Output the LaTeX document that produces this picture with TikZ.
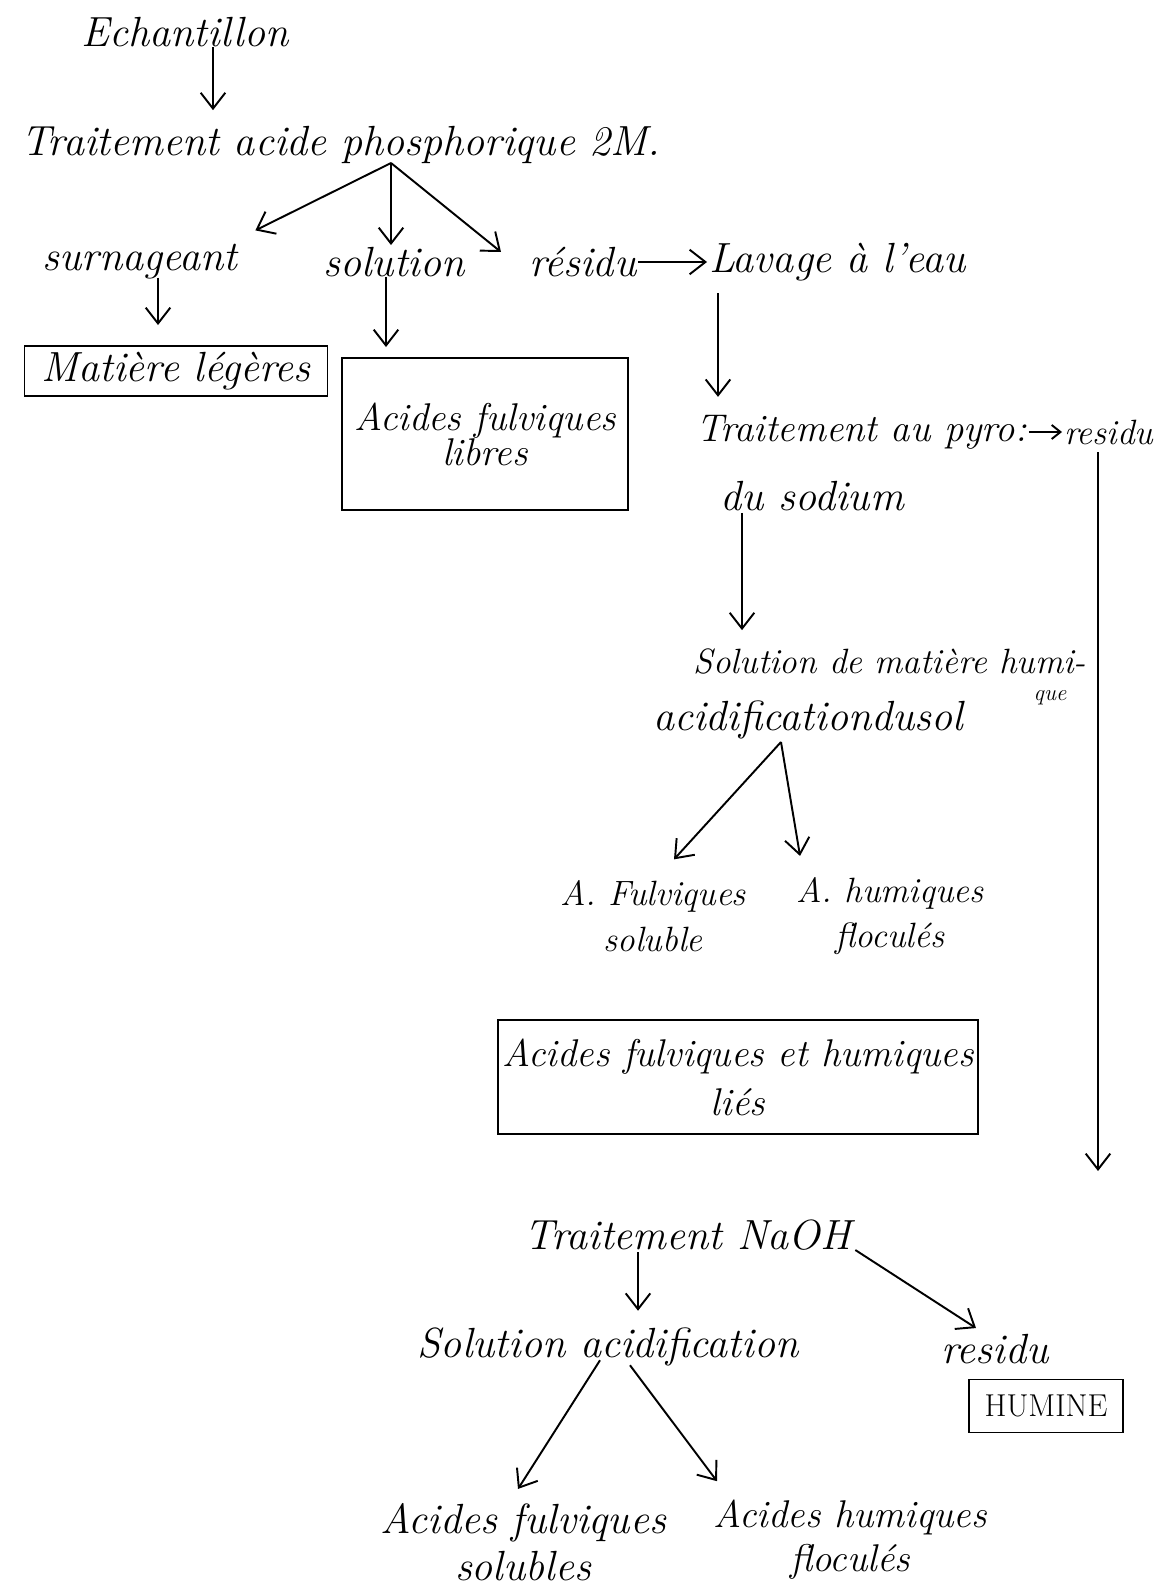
\documentclass[tikz,border=0pt]{standalone}
\usepackage{fontspec}
\usetikzlibrary{arrows.meta,calc,positioning}

\newcommand\hand{\fontsize{24}{30}\selectfont\itshape}
\newcommand\handmid{\fontsize{22}{28}\selectfont\itshape}
\newcommand\handsmall{\fontsize{20}{26}\selectfont\itshape}

\begin{document}
\begin{tikzpicture}[
  x=0.02cm,
  y=-0.02cm,
  >={Straight Barb[length=9pt,width=14pt]},
  lbl/.style={font=\hand, inner sep=1pt, align=center},
  box/.style={draw, line width=1.1pt, font=\hand, align=center, inner sep=2pt},
  link/.style={->, line width=1.1pt}
]
  \useasboundingbox (0,0) rectangle (1160,1594);

  % partie haute
  \node[lbl] (ech) at (185,32) {Echantillon};
  \node[lbl] (phos) at (341,145) {Traitement acide phosphorique 2M.};
  \node[lbl] (surn) at (140,262) {surnageant};
  \node[lbl] (sol) at (394,262) {solution};
  \node[lbl, anchor=west] (res1) at (527,262) {résidu};
  \node[lbl, anchor=west] (lav) at (707,262) {Lavage à l'eau};

  \node[box, minimum width=6.06cm, minimum height=1.0cm] (matl) at (176,371) {Matière légères};
  \node[box, font=\handmid, minimum width=5.72cm, minimum height=3.04cm] (afl) at (485,434) {Acides fulviques\\[-8pt]libres};

  \coordinate (fk1) at (391,163);
  \draw[link] ($(ech.south)+(28,-2)$) -- ($(phos.north)+(-128,-14)$);
  \draw[link] (fk1) -- ($(surn.north east)+(16,-12)$);
  \draw[link] (fk1) -- (fk1 |- sol.north);
  \draw[link] (fk1) -- ($(res1.west)+(-26,-10)$);
  \draw[link] (res1.east) -- (lav.west);
  \draw[link] ($(surn.south)+(18,-4)$) -- ($(matl.north)+(-18,-20)$);
  \draw[link] ($(sol.south)+(-8,-2)$) -- ($(afl.north)+(-99,-10)$);

  % pyrophosphate
  \node[lbl, font=\handmid, anchor=west] (pyro) at (694,432) {Traitement au pyro:};
  \node[lbl, font=\handsmall, anchor=west] (res2) at (1062,432) {residu};
  \node[lbl] (sod) at (812,496) {du sodium};
  \node[lbl, font=\handsmall] (smh) at (890,661) {Solution de matière humi-};
  \node[lbl, font=\fontsize{13}{15}\selectfont\itshape] (que) at (1050,698) {que};
  \node[lbl] (acid) at (808,720) {acidificationdusol};
  \node[lbl, font=\handsmall] (afs) at (653,916) {A. Fulviques\\soluble};
  \node[lbl, font=\handsmall] (ahf) at (890,916) {A. humiques\\floculés};
  \node[box, font=\handmid, minimum width=9.6cm, minimum height=2.28cm] (lies) at (738,1077) {Acides fulviques et humiques\\liés};

  \coordinate (fk2) at (781,742);
  \coordinate (endres) at (1098,1171);
  \draw[link] ($(lav.south west)+(11,10)$) -- ($(pyro.north west)+(24,-16)$);
  \draw[link, >={Straight Barb[length=5pt,width=8pt]}] (pyro.east) -- (res2.west);
  \draw[link] ($(endres |- res2.south)+(0,6)$) -- (endres);
  \draw[link] ($(sod.south)+(-70,0)$) -- ($(smh.north)+(-148,-16)$);
  \draw[link] (fk2) -- ($(afs.north)+(21,-19)$);
  \draw[link] (fk2) -- ($(ahf.north)+(-90,-19)$);

  % traitement NaOH
  \node[lbl] (naoh) at (688,1235) {Traitement NaOH};
  \node[lbl] (solac) at (608,1347) {Solution acidification};
  \node[lbl] (res3) at (995,1349) {residu};
  \node[box, font=\fontsize{18}{22}\selectfont, minimum width=3.08cm, minimum height=1.06cm] (hum) at (1046,1406) {HUMINE};
  \node[lbl] (afsol) at (523,1542) {Acides fulviques\\[-3pt]solubles};
  \node[lbl, font=\handmid] (ahflo) at (850,1540) {Acides humiques\\[-3pt]floculés};

  \draw[link] ($(naoh.south)+(-50,0)$) -- ($(solac.north)+(30,-15)$);
  \draw[link] ($(naoh.east)+(2,15)$) -- ($(res3.north)+(-19,-4)$);
  \draw[link] ($(solac.south)+(-8,-8)$) -- ($(afsol.north)+(-5,-12)$);
  \draw[link] ($(solac.south)+(22,-3)$) -- ($(ahflo.north)+(-133,-17)$);
\end{tikzpicture}
\end{document}
